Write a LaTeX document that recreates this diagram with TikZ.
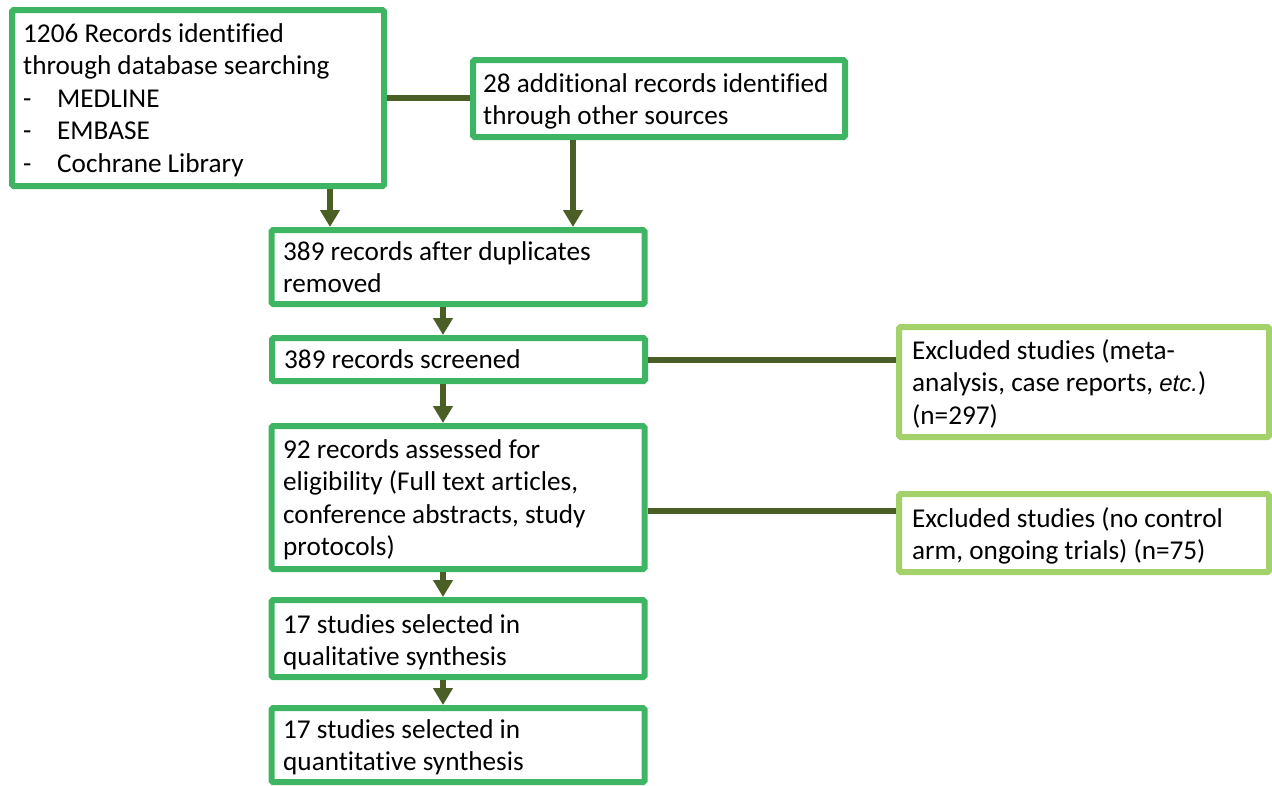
\documentclass[tikz,border=0pt]{standalone}
\usepackage{fontspec}
\setmainfont{Carlito}[Ligatures=NoCommon]
\newfontfamily\arialfont{Liberation Sans}
\usetikzlibrary{arrows.meta}
\definecolor{boxgreen}{HTML}{3DB563}
\definecolor{lightgreen}{HTML}{A3D16A}
\definecolor{linkgreen}{HTML}{4A5E26}
\tikzset{
  box/.style={draw=boxgreen, line width=6pt, fill=white, rounded corners=1.5pt, inner sep=0pt},
  exbox/.style={box, draw=lightgreen},
  txt/.style={anchor=base west, inner sep=0pt, font=\fontsize{27.2}{32.6}\selectfont, text=black},
  conn/.style={draw=linkgreen, line width=6pt},
  arr/.style={draw=linkgreen, fill=linkgreen, line width=6pt, -{Triangle[width=19pt,length=17pt]}}
}
\newcommand{\tb}[1]{\parbox[t]{360pt}{\raggedright #1}}
\begin{document}
\begin{tikzpicture}[x=1pt,y=-1pt]
\useasboundingbox (0,0) rectangle (1272,785);
% boxes
\node[box, minimum width=372pt, minimum height=176pt] (b1) at (198,98) {};
\node[box, minimum width=372pt, minimum height=77pt] (b2) at (659,98.5) {};
\node[box, minimum width=373pt, minimum height=74pt] (b3) at (458,267) {};
\node[box, minimum width=373pt, minimum height=43pt] (b4) at (458.5,359.5) {};
\node[box, minimum width=373pt, minimum height=143pt] (b5) at (458,497.5) {};
\node[box, minimum width=373pt, minimum height=77pt] (b6) at (458,638.5) {};
\node[box, minimum width=373pt, minimum height=74pt] (b7) at (458,745) {};
\node[exbox, minimum width=370pt, minimum height=110pt] (e1) at (1084,382) {};
\node[exbox, minimum width=370pt, minimum height=78pt] (e2) at (1084,533) {};
% texts
\node[txt] (t1) at (23,42) {\tb{1206 Records identified\\through database searching\\\makebox[34pt][l]{-}MEDLINE\\\makebox[34pt][l]{-}EMBASE\\\makebox[34pt][l]{-}Cochrane Library}};
\node[txt] (t2) at (483,92) {\tb{28 additional records identified\\through other sources}};
\node[txt] (t3) at (283,260) {\tb{389 records after duplicates\\removed}};
\node[txt] (t4) at (284,368) {\tb{389 records screened}};
\node[txt] (t5) at (283,458) {\tb{92 records assessed for\\eligibility (Full text articles,\\conference abstracts, study\\protocols)}};
\node[txt] (t6) at (283,633) {\tb{17 studies selected in\\qualitative synthesis}};
\node[txt] (t7) at (283,738) {\tb{17 studies selected in\\quantitative synthesis}};
\node[txt] (t8) at (912,359) {\tb{Excluded studies (meta-\\analysis, case reports, {\arialfont\itshape\fontsize{24}{32}\selectfont etc.})\\(n=297)}};
\node[txt] (t9) at (912,527) {\tb{Excluded studies (no control\\arm, ongoing trials) (n=75)}};
% helper coordinates
\coordinate (ax1) at (330,0);
\coordinate (ax2) at (573,0);
\coordinate (ax3) at (443,0);
\coordinate (cy) at (0,511);
% connectors
\draw[conn] (b1.east) -- (b1.east -| b2.west);
\draw[conn] (b4.east) -- (b4.east -| e1.west);
\draw[conn] (b5.east |- cy) -- (e2.west |- cy);
\draw[arr] (b1.south -| ax1) -- (b3.north -| ax1);
\draw[arr] (b2.south -| ax2) -- (b3.north -| ax2);
\draw[arr] (b3.south -| ax3) -- (b4.north -| ax3);
\draw[arr] (b4.south -| ax3) -- (b5.north -| ax3);
\draw[arr] (b5.south -| ax3) -- (b6.north -| ax3);
\draw[arr] (b6.south -| ax3) -- (b7.north -| ax3);
\end{tikzpicture}
\end{document}
